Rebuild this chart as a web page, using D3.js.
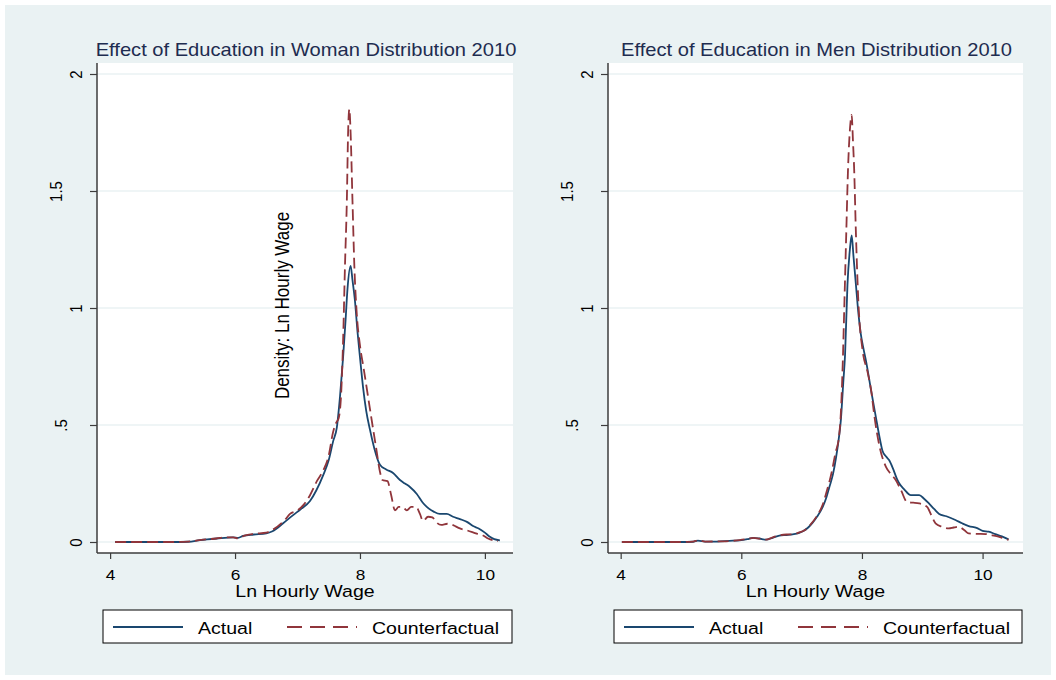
<!DOCTYPE html>
<html><head><meta charset="utf-8">
<script src="https://cdn.jsdelivr.net/npm/d3@7"></script>
<style>body{margin:0;background:#fff}svg{display:block;font-family:"Liberation Sans",Arial,sans-serif}</style>
</head><body>
<svg id="c" width="1056" height="680"></svg>
<script>
const titles = ["Effect of Education in Woman Distribution 2010", "Effect of Education in Men Distribution 2010"];
const xTitle = "Ln Hourly Wage";
const yTitle = "Density: Ln Hourly Wage";
const seriesNames = ["Actual", "Counterfactual"];
const xTicks = [4, 6, 8, 10];
const yTicks = [0, 0.5, 1, 1.5, 2];
const yTickLabels = ["0", ".5", "1", "1.5", "2"];

const womanActual = [[4.08,0],[4.5,0],[5.0,0],[5.25,0.001],[5.44,0.008],[5.71,0.015],[5.97,0.02],[6.05,0.018],[6.13,0.026],[6.3,0.032],[6.5,0.037],[6.6,0.046],[6.77,0.08],[6.93,0.115],[7.05,0.14],[7.2,0.175],[7.3,0.22],[7.41,0.285],[7.5,0.35],[7.57,0.43],[7.63,0.49],[7.68,0.62],[7.73,0.79],[7.77,0.95],[7.8,1.08],[7.85,1.18],[7.88,1.12],[7.92,1.03],[7.96,0.9],[8.0,0.79],[8.05,0.66],[8.1,0.56],[8.16,0.48],[8.23,0.4],[8.32,0.33],[8.42,0.31],[8.53,0.295],[8.64,0.265],[8.72,0.25],[8.8,0.235],[8.91,0.205],[9.0,0.17],[9.07,0.15],[9.18,0.13],[9.28,0.12],[9.39,0.12],[9.49,0.108],[9.6,0.098],[9.72,0.085],[9.81,0.068],[9.9,0.058],[10.0,0.04],[10.08,0.022],[10.15,0.012],[10.24,0.007]];
const womanCounter = [[4.08,0],[5.0,0],[5.25,0.002],[5.5,0.01],[5.7,0.015],[5.85,0.02],[5.97,0.02],[6.05,0.015],[6.15,0.027],[6.3,0.035],[6.5,0.04],[6.62,0.055],[6.8,0.095],[6.88,0.12],[7.0,0.135],[7.1,0.16],[7.2,0.2],[7.31,0.26],[7.42,0.31],[7.5,0.37],[7.57,0.47],[7.62,0.51],[7.66,0.53],[7.7,0.64],[7.73,0.86],[7.76,1.18],[7.79,1.46],[7.81,1.75],[7.83,1.85],[7.85,1.75],[7.88,1.46],[7.91,1.18],[7.95,0.97],[8.0,0.84],[8.06,0.74],[8.13,0.62],[8.2,0.5],[8.26,0.4],[8.32,0.3],[8.36,0.265],[8.44,0.26],[8.5,0.2],[8.56,0.135],[8.62,0.15],[8.68,0.15],[8.75,0.135],[8.82,0.15],[8.9,0.15],[8.96,0.12],[9.01,0.09],[9.09,0.108],[9.16,0.105],[9.22,0.085],[9.3,0.073],[9.4,0.078],[9.49,0.072],[9.6,0.058],[9.71,0.05],[9.87,0.036],[9.97,0.028],[10.05,0.015],[10.21,0.004]];
const menActual = [[4.02,0],[4.5,0],[5.0,0],[5.2,0.001],[5.28,0.006],[5.4,0.002],[5.6,0.002],[5.8,0.005],[5.97,0.007],[6.1,0.012],[6.2,0.018],[6.3,0.015],[6.41,0.01],[6.52,0.018],[6.63,0.027],[6.75,0.03],[6.85,0.033],[6.95,0.038],[7.02,0.046],[7.1,0.06],[7.18,0.082],[7.26,0.11],[7.35,0.15],[7.41,0.19],[7.46,0.235],[7.52,0.29],[7.57,0.36],[7.61,0.43],[7.65,0.52],[7.69,0.68],[7.72,0.8],[7.76,1.1],[7.8,1.25],[7.83,1.31],[7.86,1.22],[7.9,1.1],[7.94,0.98],[7.98,0.89],[8.03,0.82],[8.07,0.77],[8.15,0.65],[8.23,0.535],[8.29,0.45],[8.34,0.39],[8.4,0.365],[8.45,0.35],[8.52,0.31],[8.58,0.27],[8.62,0.25],[8.7,0.225],[8.81,0.2],[8.95,0.2],[9.03,0.185],[9.11,0.165],[9.2,0.14],[9.28,0.12],[9.4,0.11],[9.55,0.094],[9.66,0.08],[9.77,0.068],[9.9,0.06],[10.0,0.048],[10.1,0.044],[10.21,0.034],[10.32,0.024],[10.43,0.011]];
const menCounter = [[4.02,0],[5.0,0],[5.2,0.002],[5.28,0.007],[5.4,0.002],[5.7,0.003],[5.97,0.008],[6.1,0.013],[6.2,0.018],[6.3,0.014],[6.41,0.01],[6.52,0.02],[6.63,0.028],[6.75,0.032],[6.85,0.033],[6.95,0.04],[7.05,0.05],[7.15,0.075],[7.25,0.11],[7.35,0.16],[7.42,0.22],[7.5,0.3],[7.56,0.38],[7.62,0.45],[7.65,0.55],[7.68,0.75],[7.71,1.03],[7.74,1.32],[7.77,1.6],[7.8,1.76],[7.83,1.825],[7.85,1.72],[7.87,1.6],[7.9,1.32],[7.94,1.03],[8.01,0.82],[8.09,0.73],[8.16,0.635],[8.2,0.55],[8.29,0.41],[8.4,0.32],[8.48,0.29],[8.56,0.265],[8.65,0.22],[8.75,0.17],[8.85,0.168],[8.95,0.165],[9.08,0.15],[9.15,0.115],[9.22,0.08],[9.33,0.065],[9.44,0.058],[9.52,0.062],[9.61,0.065],[9.7,0.05],[9.77,0.037],[9.9,0.035],[10.05,0.034],[10.13,0.03],[10.21,0.026],[10.32,0.018],[10.43,0.009]];

const panelsData = [
  {title: titles[0], actual: womanActual, counter: womanCounter, xDomain: [3.79, 10.45], left: 97, right: 513, showYTitle: true},
  {title: titles[1], actual: menActual, counter: menCounter, xDomain: [3.79, 10.67], left: 608, right: 1023, showYTitle: false}
];

const colors = {actual: "#1a476f", counter: "#90353b", bg: "#eaf2f3", grid: "#eaf2f3", axis: "#3c3c3c", title: "#1e2c50"};
const SX = 1.15;
const svg = d3.select("#c");
svg.append("rect").attr("x", 5).attr("y", 5).attr("width", 1046).attr("height", 670).attr("fill", colors.bg);

const plotTop = 63, plotBottom = 553;
const yScale = d3.scaleLinear().domain([-0.047, 2.047]).range([plotBottom, plotTop]);

function stretchedText(g, x, yy, str, size, anchor, fill, rot) {
  return g.append("text")
    .attr("transform", `translate(${x},${yy}) scale(${SX},1)` + (rot ? ` rotate(${rot})` : ""))
    .attr("text-anchor", anchor).attr("font-size", size).attr("fill", fill).text(str);
}

panelsData.forEach(p => {
  const x = d3.scaleLinear().domain(p.xDomain).range([p.left, p.right]);
  const y = yScale;
  const g = svg.append("g");
  g.append("rect").attr("x", p.left).attr("y", plotTop).attr("width", p.right - p.left).attr("height", plotBottom - plotTop).attr("fill", "#fff");
  g.selectAll(".grid").data(yTicks).join("line")
    .attr("x1", p.left).attr("x2", p.right).attr("y1", d => y(d)).attr("y2", d => y(d))
    .attr("stroke", colors.grid).attr("stroke-width", 1.5);

  const ya = g.append("g").attr("transform", `translate(${p.left},0)`)
    .call(d3.axisLeft(y).tickValues(yTicks).tickSize(7).tickSizeOuter(0).tickFormat((d, i) => yTickLabels[i]));
  ya.select(".domain").remove();
  ya.selectAll(".tick line").attr("stroke", colors.axis).attr("stroke-width", 1.2);
  ya.selectAll(".tick text").each(function(d, i) {
    const t = d3.select(this);
    const len = yTickLabels[i].length;
    const off = 15 + (len > 1 ? 10 + 5 * (len - 1) : 0);
    t.attr("x", null).attr("dy", null).attr("text-anchor", "middle")
      .attr("transform", `translate(${-off},0) scale(${SX},1) rotate(-90)`)
      .attr("font-size", 15).attr("fill", "#000").attr("font-family", null);
  });

  const xa = g.append("g").attr("transform", `translate(0,${plotBottom})`)
    .call(d3.axisBottom(x).tickValues(xTicks).tickSize(6).tickSizeOuter(0).tickFormat(d3.format("d")));
  xa.select(".domain").remove();
  xa.selectAll(".tick line").attr("stroke", colors.axis).attr("stroke-width", 1.2);
  xa.selectAll(".tick text").attr("y", 27).attr("dy", null)
    .attr("transform", `scale(${SX},1)`).attr("font-size", 15).attr("fill", "#000").attr("font-family", null);

  g.append("line").attr("x1", p.left).attr("x2", p.left).attr("y1", plotTop).attr("y2", plotBottom).attr("stroke", colors.axis).attr("stroke-width", 1.5);
  g.append("line").attr("x1", p.left).attr("x2", p.right).attr("y1", plotBottom).attr("y2", plotBottom).attr("stroke", colors.axis).attr("stroke-width", 1.5);

  const line = d3.line().x(d => x(d[0])).y(d => y(d[1])).curve(d3.curveMonotoneX);
  g.append("path").datum(p.actual).attr("d", line).attr("fill", "none").attr("stroke", colors.actual).attr("stroke-width", 1.8);
  g.append("path").datum(p.counter).attr("d", line).attr("fill", "none").attr("stroke", colors.counter).attr("stroke-width", 1.8).attr("stroke-dasharray", "11,5");

  const cx = (p.left + p.right) / 2;
  stretchedText(g, cx + 1, 56, p.title, 17.5, "middle", colors.title);
  stretchedText(g, cx, 597, xTitle, 17, "middle", "#000");
  if (p.showYTitle) stretchedText(g, 289, 305.5, yTitle, 17, "middle", "#000", -90);

  const lx = p.left + 6, lw = p.right - p.left - 7;
  const lg = g.append("g");
  lg.append("rect").attr("x", lx).attr("y", 610).attr("width", lw).attr("height", 33).attr("fill", "#fff").attr("stroke", "#000").attr("stroke-width", 1);
  lg.append("line").attr("x1", lx + 10).attr("x2", lx + 80).attr("y1", 627).attr("y2", 627).attr("stroke", colors.actual).attr("stroke-width", 1.8);
  stretchedText(lg, lx + 95, 634, seriesNames[0], 17, "start", "#000");
  lg.append("line").attr("x1", lx + 184).attr("x2", lx + 254).attr("y1", 627).attr("y2", 627).attr("stroke", colors.counter).attr("stroke-width", 1.8).attr("stroke-dasharray", "15,8");
  stretchedText(lg, lx + 269, 634, seriesNames[1], 17, "start", "#000");
});
</script>
</body></html>
